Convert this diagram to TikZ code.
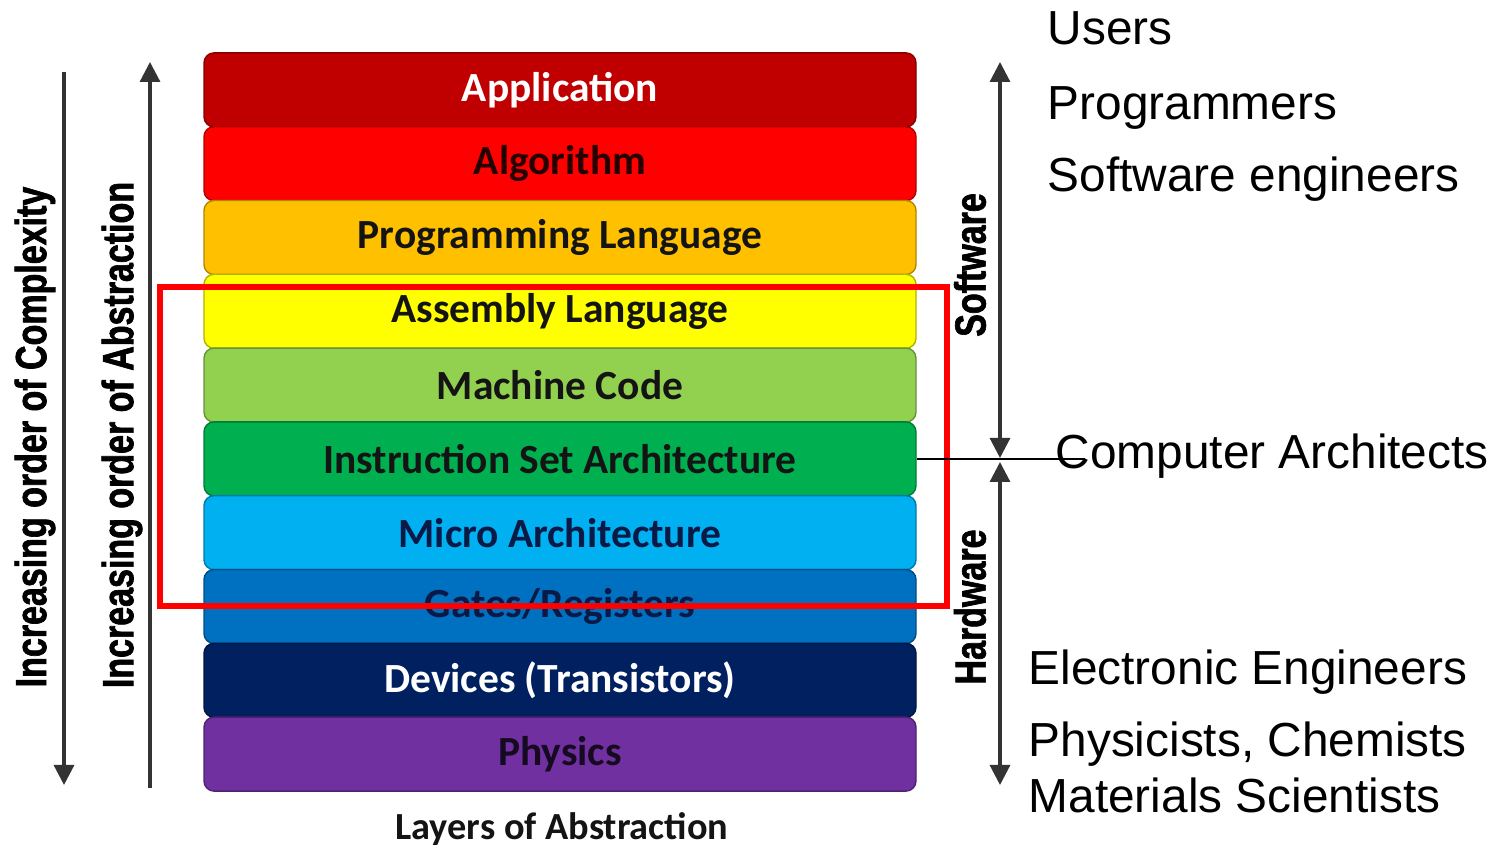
\documentclass[tikz,border=0pt]{standalone}
\usepackage{fontspec}
\setmainfont{Liberation Sans}
\newfontfamily\layerfont{Carlito}
\newfontfamily\narrowfont[FakeStretch=0.78,FakeBold=1.5]{Liberation Sans}
\usetikzlibrary{arrows.meta}

\begin{document}
\begin{tikzpicture}
	\definecolor{application}{RGB}{192,0,0}
	\definecolor{algorithm}{RGB}{255,0,0}
	\definecolor{proglang}{RGB}{255,192,0}
	\definecolor{assembly}{RGB}{255,255,0}
	\definecolor{machine}{RGB}{146,208,80}
	\definecolor{isa}{RGB}{0,176,80}
	\definecolor{micro}{RGB}{0,176,240}
	\definecolor{gates}{RGB}{0,112,192}
	\definecolor{devices}{RGB}{0,32,96}
	\definecolor{physics}{RGB}{112,48,160}
	\definecolor{darktext}{RGB}{20,20,20}
	\definecolor{navytext}{RGB}{10,25,70}

	\tikzset{
		layer/.style={draw=#1!70!black, fill=#1, rounded corners=0.1cm,
			minimum width=7.12cm, minimum height=0.74cm, inner sep=0pt,
			font=\layerfont\bfseries\fontsize{11.8}{13}\selectfont},
		axis/.style={line width=0.9pt, black!80, >={Triangle[length=0.2cm, width=0.2cm]}},
		sidelabel/.style={font=\narrowfont\bfseries\fontsize{12.4}{14}\selectfont, rotate=90},
		people/.style={anchor=base west, inner sep=0pt, font=\fontsize{13.6}{15}\selectfont}
	}

	\useasboundingbox (0,0) rectangle (14.97,8.46);

	% layers, top to bottom
	\node[layer=application, text=white] (app) at (5.60,7.561) {Application};
	\node[layer=algorithm, text=black!85!red] (alg) at (5.60,6.823) {Algorithm};
	\node[layer=proglang, text=darktext] (prog) at (5.60,6.085) {Programming Language};
	\node[layer=assembly, text=darktext] (asm) at (5.60,5.347) {Assembly Language};
	\node[layer=machine, text=darktext] (mc) at (5.60,4.609) {Machine Code};
	\node[layer=isa, text=darktext] (isa) at (5.60,3.871) {Instruction Set Architecture};
	\node[layer=micro, text=navytext] (uarch) at (5.60,3.133) {Micro Architecture};
	\node[layer=gates, text=navytext] (gates) at (5.60,2.395) {Gates/Registers};
	\node[layer=devices, text=white] (dev) at (5.60,1.657) {Devices (Transistors)};
	\node[layer=physics, text=black!80!physics] (phys) at (5.60,0.919) {Physics};

	\node[font=\layerfont\bfseries\fontsize{10.9}{12}\selectfont, text=darktext] (title) at (5.62,0.17) {Layers of Abstraction};

	% highlight
	\draw[red, line width=1.7pt] (1.60,5.59) rectangle (9.47,2.40);

	% left axes
	\coordinate (cxtop) at (0.64,7.74);
	\coordinate (cxbot) at (0.64,0.61);
	\coordinate (abtop) at (1.50,7.84);
	\coordinate (abbot) at (1.50,0.58);
	\draw[axis, ->] (cxtop) -- (cxbot);
	\draw[axis, ->] (abbot) -- (abtop);
	\node[sidelabel] (complexity) at (0.35,4.09) {Increasing order of Complexity};
	\node[sidelabel] (abstraction) at (1.22,4.11) {Increasing order of Abstraction};

	% right axis
	\coordinate (swtop) at (10.00,7.84);
	\coordinate (swbot) at (10.00,3.88);
	\coordinate (hwtop) at (10.00,3.84);
	\coordinate (hwbot) at (10.00,0.61);
	\coordinate (archend) at (10.85,3.871);
	\draw[axis, <->] (swtop) -- (swbot);
	\draw[axis, <->] (hwtop) -- (hwbot);
	\draw[line width=0.6pt] (isa.east) -- (archend);
	\node[sidelabel] (software) at (9.70,5.81) {Software};
	\node[sidelabel] (hardware) at (9.70,2.39) {Hardware};

	% who works on what
	\node[people] (users) at (10.47,8.01) {Users};
	\node[people] (progs) at (10.47,7.26) {Programmers};
	\node[people] (swe) at (10.47,6.54) {Software engineers};
	\node[people] (arch) at (10.55,3.77) {Computer Architects};
	\node[people] (ee) at (10.28,1.61) {Electronic Engineers};
	\node[people] (physchem) at (10.28,0.89) {Physicists, Chemists};
	\node[people] (mats) at (10.28,0.33) {Materials Scientists};
\end{tikzpicture}
\end{document}
